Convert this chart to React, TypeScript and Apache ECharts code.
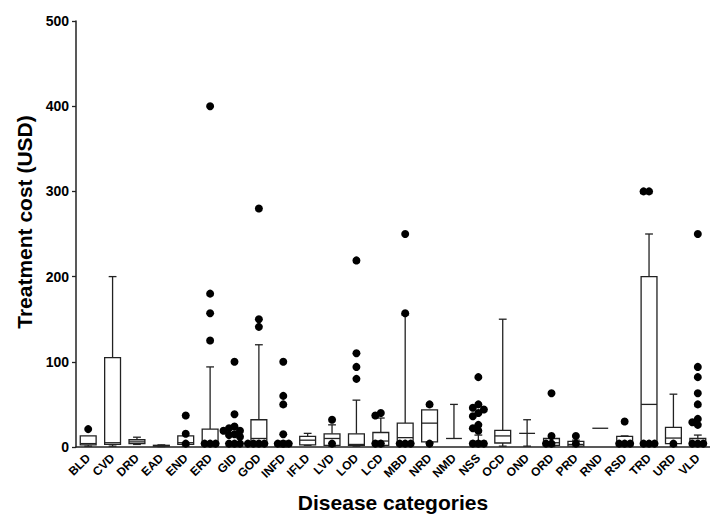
import React, { useEffect, useRef } from "react";
import * as echarts from "echarts";

const categories = ["BLD", "CVD", "DRD", "EAD", "END", "ERD", "GID", "GOD", "INFD", "IFLD", "LVD", "LOD", "LCD", "MBD", "NRD", "NMD", "NSS", "OCD", "OND", "ORD", "PRD", "RND", "RSD", "TRD", "URD", "VLD"];
const mins = [1, 1, 3, 0.5, 1, 1, 0.5, 1, 0, 2, 1, 1, 1, 1, 5, 10, 0.5, 1, 1, 0.5, 0.5, 22, 0.5, 1, 1, 1];
const q1s = [2.5, 3, 4, 1, 3, 4, 1, 3.5, 1, 2.5, 2, 2, 2, 4.5, 6, 10, 1, 4.7, 16, 2, 1, 22, 1, 3, 4, 3];
const medians = [4, 5, 6, 1.5, 5, 6, 2, 10, 2, 8, 10, 3, 7, 11, 28, 10, 2, 13, 16, 5, 3, 22, 3, 50, 10.5, 6];
const q3s = [13, 105, 8.5, 2, 13, 21, 4, 32, 5, 12.5, 15.5, 15.5, 17, 28, 43.5, 10, 7, 19.5, 16, 10, 6.5, 22, 12.5, 200, 23, 10];
const maxs = [13, 200, 11.5, 2.5, 13, 94, 6, 120, 7, 16, 26, 55, 34, 155, 43.5, 50, 14, 150, 32, 10, 8, 22, 13, 250, 62, 14];
const outliers: number[][] = [
  [21],
  [],
  [],
  [],
  [37, 15.5, 4],
  [400, 180, 157, 125, 4, 4, 4],
  [100, 38.5, 24, 22, 19, 19, 15, 14, 12, 4, 4, 4],
  [280, 150, 141, 4, 4, 4, 4],
  [100, 60, 50, 15, 4, 4, 4],
  [],
  [32, 4],
  [219, 110, 94, 80],
  [40, 37, 4, 4],
  [250, 157, 4, 4, 4],
  [50, 4],
  [],
  [82, 50, 46, 44, 40, 36, 26, 22, 19, 4, 4, 4],
  [],
  [],
  [63, 13, 4, 4],
  [13, 4],
  [],
  [30, 4, 4, 4],
  [300, 300, 4, 4, 4],
  [4],
  [250, 94, 82, 63, 50, 33, 29, 26, 4, 4, 4],
];
const yTicks = { min: 0, max: 500, interval: 100 };

const FONT = "'Liberation Sans', Arial, sans-serif";
const LINE = "#222";

export default function App() {
  const ref = useRef<HTMLDivElement>(null);
  useEffect(() => {
    document.body.style.margin = "0";
    const chart = echarts.init(ref.current!, undefined, { renderer: "svg" });
    const renderItem = (params: any, api: any) => {
      const i = api.value(0);
      const band = api.size([1, 0])[0];
      const boxW = band * 0.65;
      const capW = band * 0.32;
      const cx = api.coord([i, 0])[0];
      const y = (v: number) => api.coord([i, v])[1];
      const yMin = y(mins[i]), yQ1 = y(q1s[i]), yMed = y(medians[i]), yQ3 = y(q3s[i]), yMax = y(maxs[i]);
      const ls = { stroke: LINE, lineWidth: 1.3, fill: null };
      const children: any[] = [];
      if (maxs[i] > q3s[i]) {
        children.push({ type: "line", shape: { x1: cx, y1: yQ3, x2: cx, y2: yMax }, style: ls });
        children.push({ type: "line", shape: { x1: cx - capW / 2, y1: yMax, x2: cx + capW / 2, y2: yMax }, style: ls });
      }
      if (mins[i] < q1s[i]) {
        children.push({ type: "line", shape: { x1: cx, y1: yQ1, x2: cx, y2: yMin }, style: ls });
        children.push({ type: "line", shape: { x1: cx - capW / 2, y1: yMin, x2: cx + capW / 2, y2: yMin }, style: ls });
      }
      if (q3s[i] > q1s[i]) {
        children.push({ type: "rect", shape: { x: cx - boxW / 2, y: yQ3, width: boxW, height: yQ1 - yQ3 }, style: { stroke: LINE, lineWidth: 1.3, fill: "#fff" } });
      }
      children.push({ type: "line", shape: { x1: cx - boxW / 2, y1: yMed, x2: cx + boxW / 2, y2: yMed }, style: ls });
      // beeswarm placement of individual points
      const step = 5.5;
      const placed: number[][] = [];
      for (const v of outliers[i]) {
        const py = y(v);
        let px = cx;
        for (let k = 0; k < 20; k++) {
          const off = k === 0 ? 0 : (k % 2 === 1 ? -1 : 1) * Math.ceil(k / 2) * step;
          const tx = cx + off;
          if (placed.every(([ax, ay]) => Math.hypot(ax - tx, ay - py) >= step - 0.01)) {
            px = tx;
            break;
          }
        }
        placed.push([px, py]);
        children.push({ type: "circle", shape: { cx: px, cy: py, r: 4 }, style: { fill: "#000" } });
      }
      return { type: "group", children };
    };
    chart.setOption({
      animation: false,
      backgroundColor: "#fff",
      grid: { left: 76, top: 21, width: 642, height: 428, containLabel: false },
      xAxis: {
        type: "category",
        data: categories,
        boundaryGap: true,
        axisLine: { lineStyle: { color: LINE, width: 1.5 } },
        axisTick: { alignWithLabel: true, length: 5, lineStyle: { color: LINE, width: 1.3 } },
        axisLabel: { rotate: 45, fontSize: 12, fontWeight: "bold", color: "#000", fontFamily: FONT, margin: 9, interval: 0 },
        name: "Disease categories",
        nameLocation: "middle",
        nameGap: 45,
        nameTextStyle: { fontSize: 21, fontWeight: "bold", color: "#000", fontFamily: FONT },
      },
      yAxis: {
        type: "value",
        min: yTicks.min,
        max: yTicks.max,
        interval: yTicks.interval,
        splitLine: { show: false },
        axisLine: { show: true, lineStyle: { color: LINE, width: 1.5 } },
        axisTick: { show: true, length: 4, lineStyle: { color: LINE, width: 1.3 } },
        axisLabel: { fontSize: 14, fontWeight: "bold", color: "#000", fontFamily: FONT, margin: 7 },
      },
      graphic: [
        {
          type: "text",
          x: 24,
          y: 222,
          rotation: Math.PI / 2,
          style: { text: "Treatment cost (USD)", fontSize: 21, fontWeight: "bold", fill: "#000", fontFamily: FONT, align: "center", verticalAlign: "middle" },
        },
      ],
      series: [
        {
          type: "custom",
          renderItem,
          data: categories.map((_, i) => [i]),
          encode: { x: 0, y: -1 },
          clip: false,
        },
      ],
    });
    return () => chart.dispose();
  }, []);
  return <div ref={ref} style={{ width: 710, height: 518 }} />;
}
